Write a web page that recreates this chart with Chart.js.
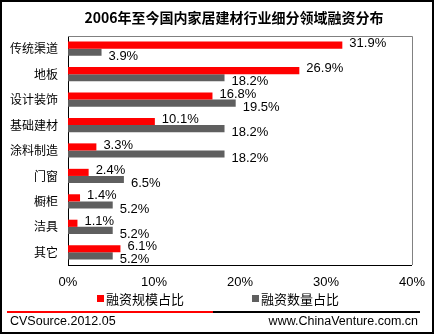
<!DOCTYPE html>
<html>
<head>
<meta charset="utf-8">
<script src="https://cdn.jsdelivr.net/npm/chart.js@4/dist/chart.umd.min.js"></script>
<style>
  html, body { margin: 0; padding: 0; background: #fff; }
  #wrap { width: 435px; height: 335px; }
</style>
</head>
<body>
<div id="wrap"><canvas id="chart" width="435" height="335"></canvas></div>
<script>
// categories and series (percent)
const categories = ["传统渠道", "地板", "设计装饰", "基础建材", "涂料制造", "门窗", "橱柜", "洁具", "其它"];
const scaleShare = [31.9, 26.9, 16.8, 10.1, 3.3, 2.4, 1.4, 1.1, 6.1];
const countShare = [3.9, 18.2, 19.5, 18.2, 18.2, 6.5, 5.2, 5.2, 5.2];
const xTicks = [0, 10, 20, 30, 40];
const chartTitle = "2006年至今国内家居建材行业细分领域融资分布";

const RED = "#ff0000";
const GRAY = "#5f5f5f";
const FONT = "'Liberation Sans', Arial, sans-serif";
const CJK = "'Noto Sans CJK SC', sans-serif";

// frame, title, top/right plot border, value labels, legend, footer
const decorations = {
  id: "decorations",
  afterDraw(chart) {
    const ctx = chart.ctx;
    const a = chart.chartArea;
    ctx.save();

    // outer border
    ctx.strokeStyle = "#000";
    ctx.lineWidth = 2;
    ctx.strokeRect(1, 1, 432, 332);

    // title
    ctx.font = "bold 14px " + CJK;
    ctx.fillStyle = "#000";
    ctx.textAlign = "center";
    ctx.textBaseline = "middle";
    ctx.fillText(chartTitle, 234, 18);

    // gray top/right plot border
    ctx.strokeStyle = "#808080";
    ctx.lineWidth = 1;
    ctx.beginPath();
    ctx.moveTo(a.left, a.top + 0.5);
    ctx.lineTo(a.right + 0.5, a.top + 0.5);
    ctx.lineTo(a.right + 0.5, a.bottom);
    ctx.stroke();

    // value labels
    ctx.font = "13px " + FONT;
    ctx.fillStyle = "#000";
    ctx.textAlign = "left";
    chart.data.datasets.forEach((ds, di) => {
      const meta = chart.getDatasetMeta(di);
      meta.data.forEach((bar, i) => {
        const dy = di === 0 ? -2 : 4;
        ctx.fillText(ds.data[i].toFixed(1) + "%", bar.x + 7, bar.y + dy);
      });
    });

    // legend
    ctx.font = "13px " + CJK;
    const legendPos = [97, 252];
    chart.data.datasets.forEach((ds, di) => {
      const x = legendPos[di];
      ctx.fillStyle = ds.backgroundColor;
      ctx.fillRect(x, 295, 7, 7);
      ctx.fillStyle = "#000";
      ctx.fillText(ds.label, x + 9, 299);
    });

    // footer rule
    ctx.lineWidth = 2;
    ctx.strokeStyle = RED;
    ctx.beginPath();
    ctx.moveTo(7, 312);
    ctx.lineTo(213, 312);
    ctx.stroke();
    ctx.strokeStyle = "#000";
    ctx.beginPath();
    ctx.moveTo(213, 312);
    ctx.lineTo(420, 312);
    ctx.stroke();

    ctx.font = "12.5px " + FONT;
    ctx.fillStyle = "#000";
    ctx.textAlign = "left";
    ctx.fillText("CVSource.2012.05", 10, 322);
    ctx.textAlign = "right";
    ctx.fillText("www.ChinaVenture.com.cn", 418, 322);

    ctx.restore();
  }
};

new Chart(document.getElementById("chart"), {
  type: "bar",
  data: {
    labels: categories,
    datasets: [
      { label: "融资规模占比", data: scaleShare, backgroundColor: RED },
      { label: "融资数量占比", data: countShare, backgroundColor: GRAY }
    ]
  },
  options: {
    indexAxis: "y",
    responsive: false,
    animation: false,
    layout: { padding: { left: 0, top: 36, right: 23, bottom: 0 } },
    datasets: { bar: { barPercentage: 1, categoryPercentage: 0.56 } },
    plugins: {
      legend: { display: false },
      tooltip: { enabled: false },
      title: { display: false }
    },
    scales: {
      x: {
        min: 0,
        max: 40,
        afterBuildTicks(scale) { scale.ticks = xTicks.map(v => ({ value: v })); },
        afterFit(scale) { scale.height = 70; },
        grid: { display: false, drawTicks: false },
        border: { color: "#000", width: 1 },
        ticks: {
          padding: 10,
          color: "#000",
          font: { family: FONT, size: 13 },
          callback: v => v + "%"
        }
      },
      y: {
        afterFit(scale) { scale.width = 68; },
        grid: { display: false, drawTicks: false },
        border: { color: "#000", width: 1 },
        ticks: {
          padding: 10,
          color: "#000",
          font: { family: CJK, size: 12 }
        }
      }
    }
  },
  plugins: [decorations]
});
</script>
</body>
</html>
